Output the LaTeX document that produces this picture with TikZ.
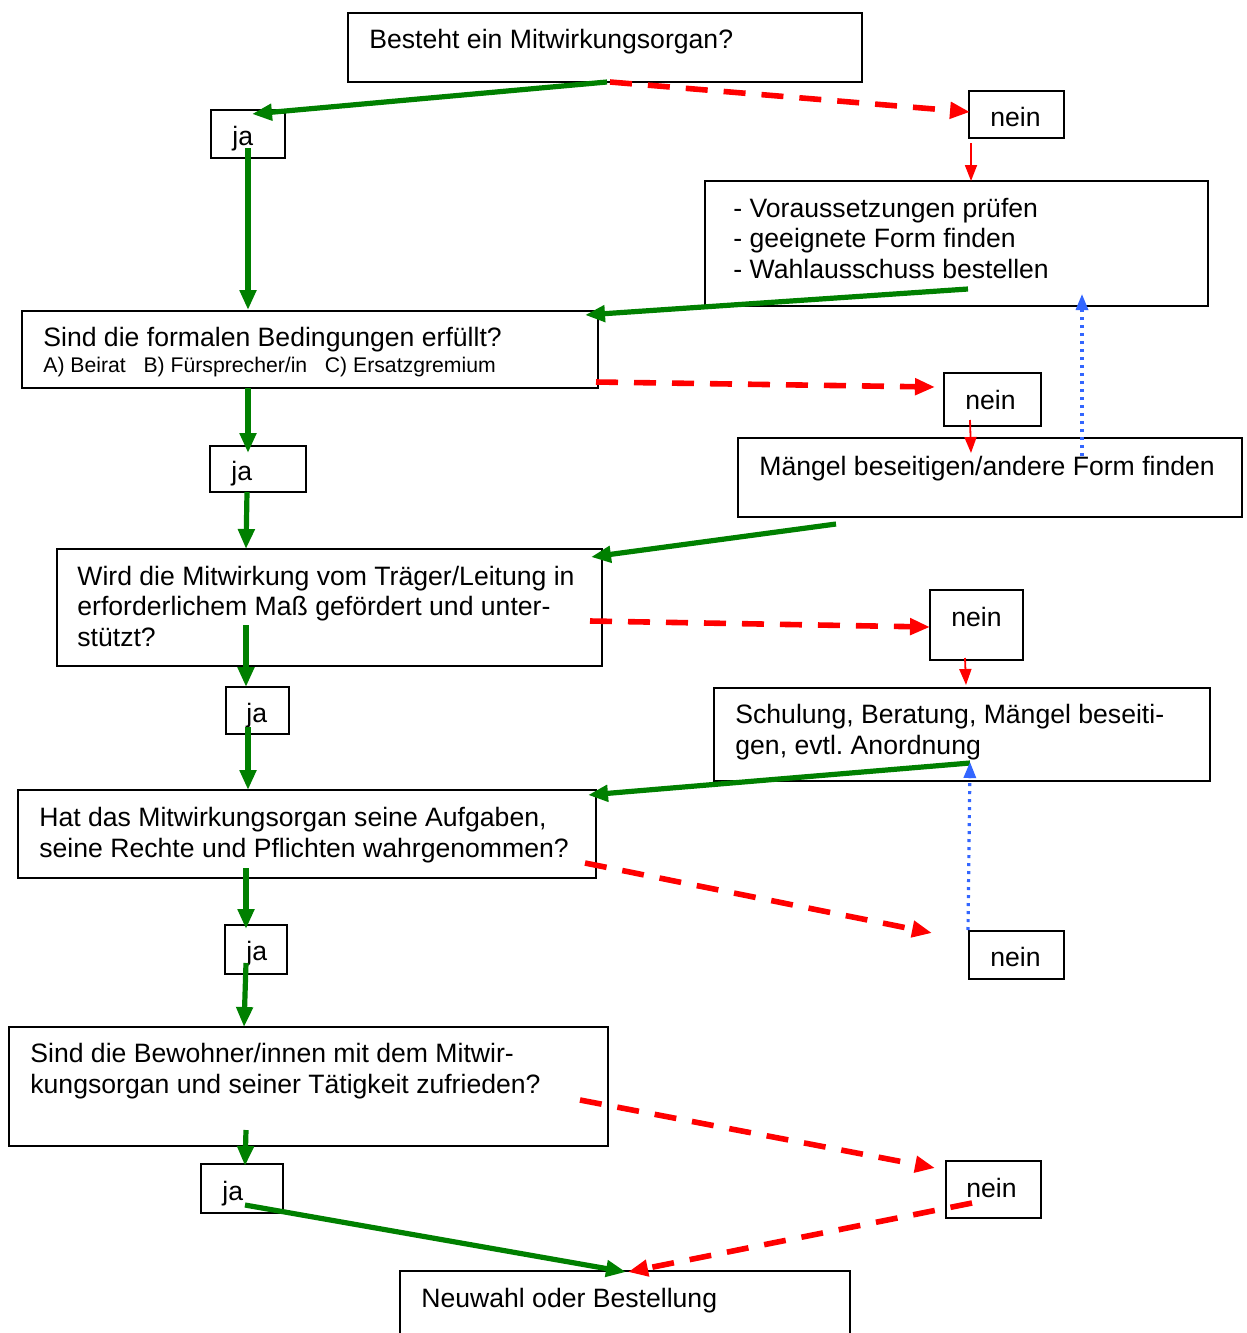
\documentclass[tikz,border=0pt]{standalone}
\usepackage{fontspec}
\setmainfont{Liberation Sans}
\usetikzlibrary{arrows.meta}
\definecolor{okgreen}{RGB}{0,128,0}
\definecolor{nored}{RGB}{255,0,0}
\definecolor{backblue}{RGB}{51,102,255}
\newcommand\mybx[5]{\node[box, minimum width={(#4-#2)*0.5pt}, minimum height={(#5-#3)*0.5pt}] (#1) at ({(#2+#4)/2},{(#3+#5)/2}) {};}
\frenchspacing
\begin{document}
\begin{tikzpicture}[x=0.5pt,y=-0.5pt,
  box/.style={draw=black, line width=1pt, inner sep=0pt, outer sep=0pt},
  txt/.style={anchor=base west, inner sep=0pt, font=\fontsize{13.3}{15.3}\selectfont},
  smalltxt/.style={anchor=base west, inner sep=0pt, font=\fontsize{10.6}{12}\selectfont},
  yes/.style={draw=okgreen, line width=2.6pt, -{Triangle[length=10pt,width=8pt]}},
  no/.style={draw=nored, line width=2.8pt, dash pattern=on 11pt off 8pt, -{Triangle[length=10pt,width=8pt,sep=0pt]}},
  nothin/.style={draw=nored, line width=0.9pt, -{Triangle[length=8pt,width=6pt]}},
  back/.style={draw=backblue, line width=1.6pt, dash pattern=on 1.5pt off 2.5pt, -{Triangle[length=8pt,width=6pt]}}
]
\clip (0,0) rectangle (1247,1333);
\fill[white] (0,0) rectangle (1247,1333);

% boxes
\mybx{b1}{348}{13}{862}{82}
\mybx{ja1}{211}{110}{285}{158}
\mybx{nein1}{969}{91}{1064}{138}
\mybx{vor}{705}{181}{1208}{306}
\mybx{sind}{22}{311}{598}{388}
\mybx{nein2}{944}{373}{1041}{426}
\mybx{mang}{738}{438}{1242}{517}
\mybx{ja2}{210}{446}{306}{492}
\mybx{wird}{57}{549}{602}{666}
\mybx{nein3}{930}{590}{1023}{660}
\mybx{ja3}{226}{687}{289}{734}
\mybx{schul}{714}{688}{1210}{781}
\mybx{hat}{18}{790}{596}{878}
\mybx{ja4}{225}{925}{287}{974}
\mybx{nein4}{969}{931}{1064}{979}
\mybx{bew}{9}{1027}{608}{1146}
\mybx{ja5}{201}{1164}{283}{1213}
\mybx{nein5}{946}{1161}{1041}{1218}
\mybx{neu}{400}{1271}{850}{1360}

% texts
\node[txt] (t1) at (369,48) {Besteht ein Mitwirkungsorgan?};
\node[txt] (tja1) at (232,145) {ja};
\node[txt] (tnein1) at (990,126) {nein};
\node[txt] (tvor1) at (733,217) {- Voraussetzungen prüfen};
\node[txt] (tvor2) at (733,247) {- geeignete Form finden};
\node[txt] (tvor3) at (733,278) {- Wahlausschuss bestellen};
\node[txt] (tsind1) at (43,346) {Sind die formalen Bedingungen erfüllt?};
\node[smalltxt] (tsind2) at (43,372) {A) Beirat \ \ B) Fürsprecher/in \ \ C) Ersatzgremium};
\node[txt] (tnein2) at (965,409) {nein};
\node[txt] (tmang) at (759,475) {Mängel beseitigen/andere Form finden};
\node[txt] (tja2) at (231,480) {ja};
\node[txt] (twird1) at (77,585) {Wird die Mitwirkung vom Träger/Leitung in};
\node[txt] (twird2) at (77,615) {erforderlichem Maß gefördert und unter-};
\node[txt] (twird3) at (77,646) {stützt?};
\node[txt] (tnein3) at (951,626) {nein};
\node[txt] (tja3) at (246,722) {ja};
\node[txt] (tschul1) at (735,723) {Schulung, Beratung, Mängel beseiti-};
\node[txt] (tschul2) at (735,754) {gen, evtl. Anordnung};
\node[txt] (that1) at (39,826) {Hat das Mitwirkungsorgan seine Aufgaben,};
\node[txt] (that2) at (39,857) {seine Rechte und Pflichten wahrgenommen?};
\node[txt] (tja4) at (246,960) {ja};
\node[txt] (tnein4) at (990,966) {nein};
\node[txt] (tbew1) at (30,1062) {Sind die Bewohner/innen mit dem Mitwir-};
\node[txt] (tbew2) at (30,1093) {kungsorgan und seiner Tätigkeit zufrieden?};
\node[txt] (tja5) at (222,1200) {ja};
\node[txt] (tnein5) at (966,1197) {nein};
\node[txt] (tneu) at (421,1307) {Neuwahl oder Bestellung};

% connector end points
\coordinate (p1a) at (607,82);   \coordinate (p1b) at (252,114);
\coordinate (p2a) at (610,82);   \coordinate (p2b) at (970,112);
\coordinate (p3a) at (971,143);  \coordinate (p3b) at (971,181);
\coordinate (p4a) at (248,148);  \coordinate (p4b) at (248,310);
\coordinate (p5a) at (968,289);  \coordinate (p5b) at (585,315);
\coordinate (p6a) at (596,382);  \coordinate (p6b) at (935,387);
\coordinate (p7a) at (970,420);  \coordinate (p7b) at (971,453);
\coordinate (p8a) at (1082,456); \coordinate (p8b) at (1082,294);
\coordinate (p9a) at (248,388);  \coordinate (p9b) at (248,453);
\coordinate (p10a) at (247,492); \coordinate (p10b) at (246,549);
\coordinate (p11a) at (836,524); \coordinate (p11b) at (591,557);
\coordinate (p12a) at (590,621); \coordinate (p12b) at (930,627);
\coordinate (p13a) at (965,658); \coordinate (p13b) at (966,685);
\coordinate (p14a) at (246,625); \coordinate (p14b) at (246,687);
\coordinate (p15a) at (248,727); \coordinate (p15b) at (248,790);
\coordinate (p16a) at (970,763); \coordinate (p16b) at (588,795);
\coordinate (p17a) at (968,930); \coordinate (p17b) at (970,762);
\coordinate (p18a) at (585,863); \coordinate (p18b) at (932,933);
\coordinate (p19a) at (246,868); \coordinate (p19b) at (246,929);
\coordinate (p20a) at (246,963); \coordinate (p20b) at (244,1027);
\coordinate (p21a) at (580,1100);\coordinate (p21b) at (935,1168);
\coordinate (p22a) at (246,1130);\coordinate (p22b) at (245,1166);
\coordinate (p23a) at (245,1205);\coordinate (p23b) at (626,1272);
\coordinate (p24a) at (972,1203);\coordinate (p24b) at (628,1272);

% connectors
\draw[yes] (p1a) -- (p1b);
\draw[no] (p2a) -- (p2b);
\draw[nothin] (p3a) -- (p3b);
\draw[yes] (p4a) -- (p4b);
\draw[yes] (p5a) -- (p5b);
\draw[no] (p6a) -- (p6b);
\draw[nothin] (p7a) -- (p7b);
\draw[back] (p8a) -- (p8b);
\draw[yes] (p9a) -- (p9b);
\draw[yes] (p10a) -- (p10b);
\draw[yes] (p11a) -- (p11b);
\draw[no] (p12a) -- (p12b);
\draw[nothin] (p13a) -- (p13b);
\draw[yes] (p14a) -- (p14b);
\draw[yes] (p15a) -- (p15b);
\draw[yes] (p16a) -- (p16b);
\draw[back] (p17a) -- (p17b);
\draw[no] (p18a) -- (p18b);
\draw[yes] (p19a) -- (p19b);
\draw[yes] (p20a) -- (p20b);
\draw[no] (p21a) -- (p21b);
\draw[yes] (p22a) -- (p22b);
\draw[yes] (p23a) -- (p23b);
\draw[no] (p24a) -- (p24b);
\end{tikzpicture}
\end{document}
